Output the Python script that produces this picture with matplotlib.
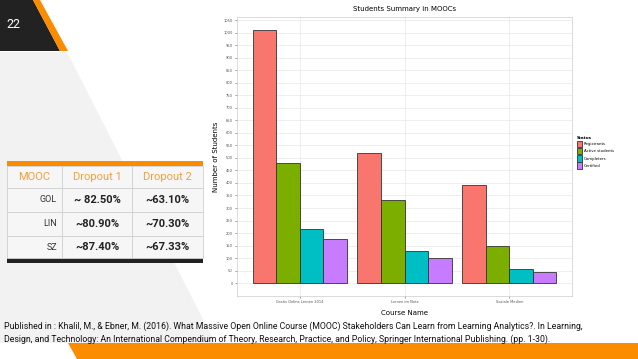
import numpy as np
import matplotlib
matplotlib.use('Agg')
from matplotlib import pyplot as plt
from matplotlib.patches import Polygon, Rectangle

# datos del grafico
cursos = ['Gratis Online Lernen 2014', 'Lernen im Netz', 'Soziale Medien']
estados = ['Registrants', 'Active students', 'Completers', 'Certified']
registrants = [1010, 518, 392]
active = [478, 332, 149]
completers = [215, 130, 57]
certified = [176, 100, 45]
colores = ['#F8766D', '#7CAE00', '#00BFC4', '#C77CFF']

# datos de la tabla
tabla_cols = ['MOOC', 'Dropout 1', 'Dropout 2']
tabla_mooc = ['GOL', 'LIN', 'SZ']
dropout1 = ['~ 82.50%', '~80.90%', '~87.40%']
dropout2 = ['~63.10%', '~70.30%', '~67.33%']

cita = ('Published in : Khalil, M., & Ebner, M. (2016). What Massive Open Online Course (MOOC) '
        'Stakeholders Can Learn from Learning Analytics?. In Learning,\n'
        'Design, and Technology: An International Compendium of Theory, Research, Practice, '
        'and Policy, Springer International Publishing. (pp. 1-30).')

W, H = 638, 359
fig = plt.figure(figsize=(W / 100, H / 100), dpi=100)

# fondo de la diapositiva en coordenadas de pixel
bg = fig.add_axes([0, 0, 1, 1])
bg.set_xlim(0, W)
bg.set_ylim(H, 0)
bg.axis('off')

orange = '#FB8C00'
bg.add_patch(Polygon([(0, 52), (67, 52), (215, 343), (0, 343)], color='#f2f2f2', lw=0))
bg.add_patch(Polygon([(0, 0), (33, 0), (60, 51), (0, 51)], color='#222222', lw=0))
bg.add_patch(Polygon([(33, 0), (40, 0), (68, 51), (60, 51)], color=orange, lw=0))
bg.add_patch(Polygon([(68, 343), (W, 343), (W, H), (77, H)], color=orange, lw=0))
bg.text(13, 25, '22', color='white', fontsize=9, family='Roboto', va='center', ha='center')

# tabla
x_cols = [7, 62, 132, 203]
y_rows = [166, 188, 212, 236, 258]
bg.add_patch(Rectangle((7, 161), 196, 5, color=orange, lw=0))
bg.add_patch(Rectangle((7, 258), 196, 5, color='#222222', lw=0))
for i in range(4):
    for j in range(3):
        bg.add_patch(Rectangle((x_cols[j], y_rows[i]), x_cols[j + 1] - x_cols[j],
                               y_rows[i + 1] - y_rows[i], facecolor='#f6f6f6',
                               edgecolor='#d0d0d0', lw=0.6))
for j, c in enumerate(tabla_cols):
    bg.text((x_cols[j] + x_cols[j + 1]) / 2, (y_rows[0] + y_rows[1]) / 2, c,
            color='#F0A040', fontsize=8, family='Roboto', ha='center', va='center')
for i in range(3):
    yc = (y_rows[i + 1] + y_rows[i + 2]) / 2
    bg.text(x_cols[1] - 5, yc, tabla_mooc[i], color='#333333', fontsize=6.5,
            family='Roboto', ha='right', va='center')
    bg.text((x_cols[1] + x_cols[2]) / 2, yc, dropout1[i], color='#222222', fontsize=8,
            family='Roboto', weight='bold', ha='center', va='center')
    bg.text((x_cols[2] + x_cols[3]) / 2, yc, dropout2[i], color='#222222', fontsize=8,
            family='Roboto', weight='bold', ha='center', va='center')

bg.text(4, 333, cita, fontsize=6.3, family='Roboto',
        color='#111111', va='center', ha='left', linespacing=1.45)

# grafico de barras
ax = fig.add_axes([237 / W, 1 - 296 / H, (572 - 237) / W, (296 - 17) / H])
series = [registrants, active, completers, certified]
x = np.arange(1, len(cursos) + 1)
bw = 0.9 / 4
for k, s in enumerate(series):
    ax.bar(x - 0.45 + bw * (k + 0.5), s, bw, color=colores[k], edgecolor='#333333',
           lw=0.6, label=estados[k], zorder=3)

ax.set_xlim(0.4, 3.6)
ax.set_ylim(-51, 1062)
ax.set_yticks(range(0, 1051, 50))
ax.set_xticks(x)
ax.set_xticklabels(cursos)
ax.tick_params(labelsize=2.6, colors='#555555', length=1.5, width=0.4, pad=1.5)
ax.grid(color='#e8e8e8', lw=0.5, zorder=0)
for sp in ax.spines.values():
    sp.set_color('#cccccc')
    sp.set_linewidth(0.5)
ax.set_title('Students Summary in MOOCs', fontsize=5, pad=4)
ax.set_xlabel('Course Name', fontsize=5, labelpad=4)
ax.set_ylabel('Number of Students', fontsize=5, labelpad=3)

leg = ax.legend(title='Status', loc='upper left', bbox_to_anchor=(1.01, 0.58),
                fontsize=2.8, title_fontsize=3, frameon=False, handlelength=1.2,
                handleheight=2.2, labelspacing=0.2, handletextpad=0.5, borderaxespad=0)
leg._legend_box.align = 'left'
leg.get_title().set_weight('bold')

fig.savefig('out.png', dpi=100)
